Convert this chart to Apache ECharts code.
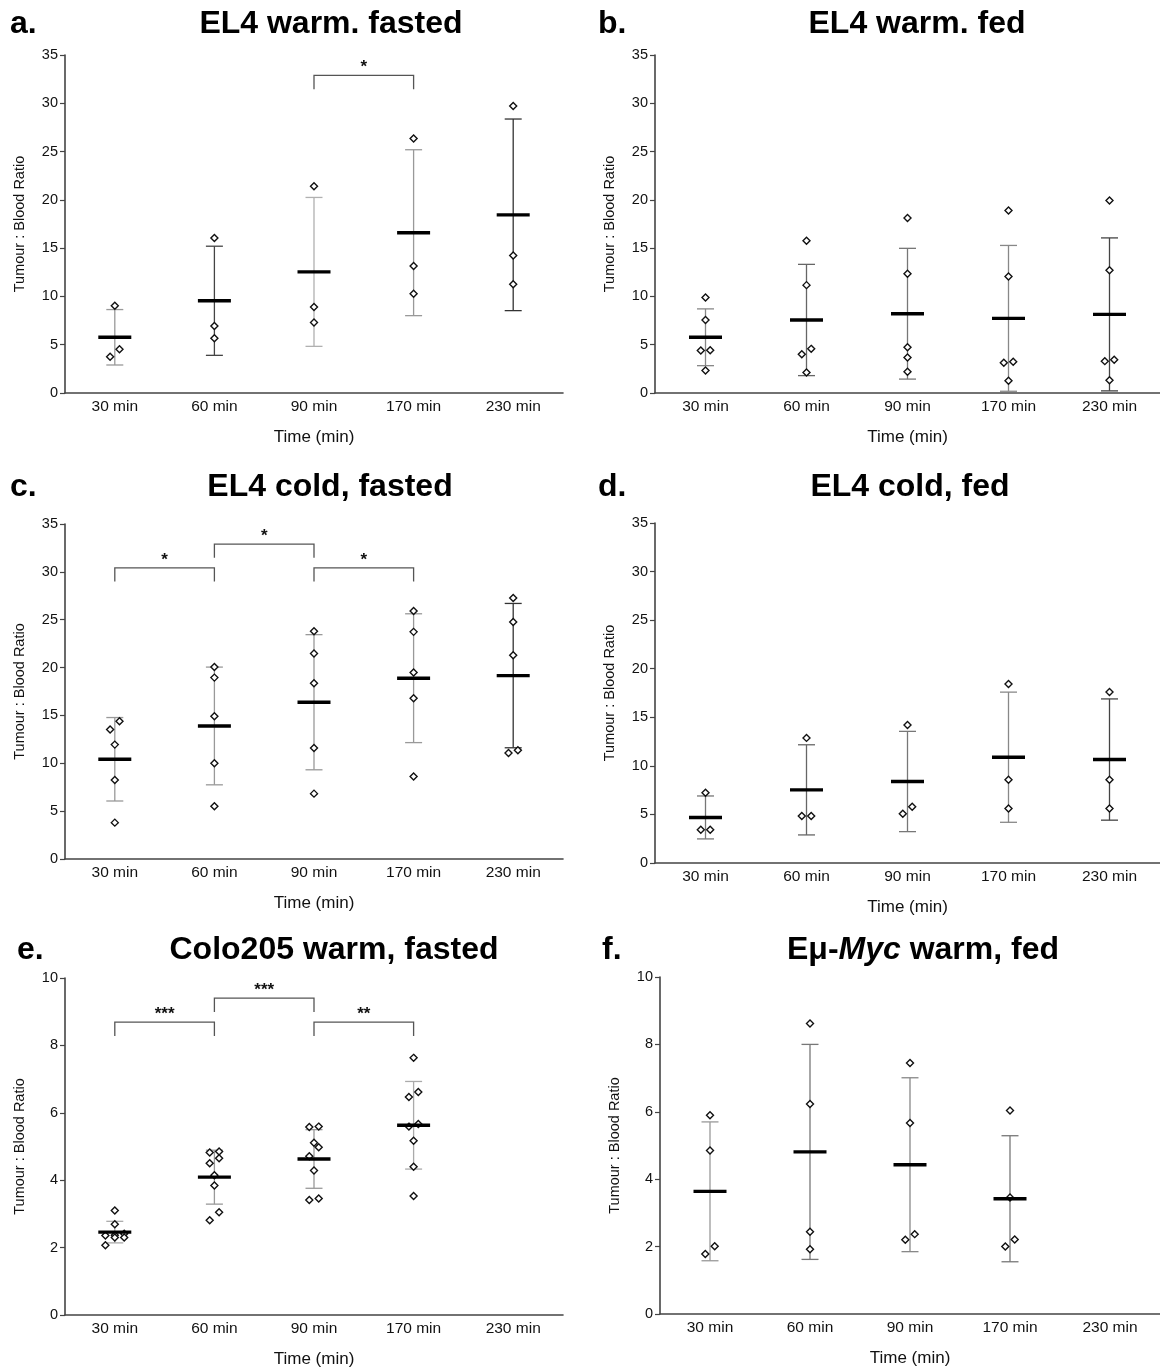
<!DOCTYPE html>
<html>
<head>
<meta charset="utf-8">
<script src="https://cdn.jsdelivr.net/npm/echarts@6/dist/echarts.min.js"></script>
<style>
html,body{margin:0;padding:0;background:#fff;}
#chart{width:1160px;height:1372px;}
</style>
</head>
<body>
<div id="chart"></div>
<script>
// ---------- data ----------
const categories = ['30 min', '60 min', '90 min', '170 min', '230 min'];

// a. EL4 warm. fasted
const pointsA = [[9.04, 4.54, 3.75], [16.05, 6.94, 5.67], [21.41, 8.90, 7.29], [26.36, 13.16, 10.27], [29.73, 14.23, 11.27]];
const meanA = [5.77, 9.55, 12.54, 16.60, 18.45];
const sdA = [2.87, 5.65, 7.71, 8.59, 9.92];
const sigA = [{ from: 2, to: 3, level: 1, label: '*' }];

// b. EL4 warm. fed
const pointsB = [[9.90, 7.56, 4.43, 4.40, 2.34], [15.77, 11.17, 4.57, 4.02, 2.13], [18.11, 12.34, 4.74, 3.68, 2.20], [18.90, 12.06, 3.23, 3.13, 1.27], [19.93, 12.71, 3.44, 3.30, 1.31]];
const meanB = [5.77, 7.56, 8.21, 7.73, 8.14];
const sdB = [2.94, 5.76, 6.77, 7.55, 7.92];
const sigB = [];

// c. EL4 cold, fasted
const pointsC = [[14.39, 13.52, 11.95, 8.26, 3.80], [20.07, 18.95, 14.91, 10.00, 5.51], [23.80, 21.46, 18.36, 11.60, 6.83], [25.92, 23.73, 19.48, 16.79, 8.61], [27.28, 24.77, 21.29, 11.36, 11.08]];
const meanC = [10.42, 13.90, 16.38, 18.89, 19.16];
const sdC = [4.36, 6.15, 7.06, 6.73, 7.54];
const sigC = [{ from: 0, to: 1, level: 0, label: '*' }, { from: 1, to: 2, level: 1, label: '*' }, { from: 2, to: 3, level: 0, label: '*' }];

// d. EL4 cold, fed
const pointsD = [[7.23, 3.42, 3.42], [12.88, 4.83, 4.83], [14.21, 5.79, 5.07], [18.42, 8.56, 5.62], [17.60, 8.56, 5.62]];
const meanD = [4.69, 7.53, 8.39, 10.89, 10.65];
const sdD = [2.21, 4.64, 5.16, 6.70, 6.24];
const sigD = [];

// e. Colo205 warm, fasted
const pointsE = [[3.10, 2.69, 2.41, 2.37, 2.36, 2.30, 2.30, 2.07], [4.85, 4.82, 4.65, 4.50, 4.15, 3.84, 3.05, 2.81], [5.59, 5.58, 5.11, 4.98, 4.71, 4.29, 3.46, 3.41], [7.63, 6.62, 6.47, 5.67, 5.59, 5.17, 4.40, 3.53], []];
const meanE = [2.46, 4.09, 4.63, 5.63, null];
const sdE = [0.32, 0.80, 0.87, 1.30, null];
const sigE = [{ from: 0, to: 1, level: 0, label: '***' }, { from: 1, to: 2, level: 1, label: '***' }, { from: 2, to: 3, level: 0, label: '**' }];

// f. Eμ-Myc warm, fed
const pointsF = [[5.90, 4.85, 2.01, 1.78], [8.62, 6.23, 2.44, 1.92], [7.45, 5.67, 2.37, 2.20], [6.04, 3.46, 2.21, 2.00], []];
const meanF = [3.64, 4.81, 4.43, 3.42, null];
const sdF = [2.06, 3.19, 2.58, 1.87, null];
const sigF = [];

const yTicks35 = [0, 5, 10, 15, 20, 25, 30, 35];
const yTicks10 = [0, 2, 4, 6, 8, 10];

// ---------- layout / style ----------
const FONT = '"Liberation Sans", Arial, Helvetica, sans-serif';
const panels = [
  { letter: 'a.', title: 'EL4 warm. fasted', grid: { left: 65, top: 55, width: 498, height: 338 }, ticks: yTicks35,
    pts: pointsA, mean: meanA, sd: sdA, sig: sigA, errColors: ['#999', '#444', '#b0b0b0', '#999', '#333'],
    titleX: 331, titleY: 24, letterX: 10 },
  { letter: 'b.', title: 'EL4 warm. fed', grid: { left: 655, top: 55, width: 505, height: 338 }, ticks: yTicks35,
    pts: pointsB, mean: meanB, sd: sdB, sig: sigB, errColors: ['#888', '#666', '#777', '#888', '#444'],
    titleX: 917, titleY: 24, letterX: 598 },
  { letter: 'c.', title: 'EL4 cold, fasted', grid: { left: 65, top: 524, width: 498, height: 335 }, ticks: yTicks35,
    pts: pointsC, mean: meanC, sd: sdC, sig: sigC, errColors: ['#999', '#999', '#999', '#999', '#333'],
    titleX: 330, titleY: 487, letterX: 10 },
  { letter: 'd.', title: 'EL4 cold, fed', grid: { left: 655, top: 523, width: 505, height: 340 }, ticks: yTicks35,
    pts: pointsD, mean: meanD, sd: sdD, sig: sigD, errColors: ['#777', '#666', '#777', '#888', '#444'],
    titleX: 910, titleY: 487, letterX: 598 },
  { letter: 'e.', title: 'Colo205 warm, fasted', grid: { left: 65, top: 978, width: 498, height: 337 }, ticks: yTicks10,
    pts: pointsE, mean: meanE, sd: sdE, sig: sigE, errColors: ['#aaa', '#999', '#999', '#aaa', '#999'],
    titleX: 334, titleY: 950, letterX: 17 },
  { letter: 'f.', title: '{n|Eμ-}{i|Myc}{n| warm, fed}', grid: { left: 660, top: 977, width: 500, height: 337 }, ticks: yTicks10,
    pts: pointsF, mean: meanF, sd: sdF, sig: sigF, errColors: ['#999', '#777', '#888', '#777', '#777'],
    titleX: 923, titleY: 950, letterX: 602 }
];

const D = 9.4; // diamond spacing in px for side-by-side placement
function swarmOffsets(vals, pxPerUnit) {
  const idx = vals.map((v, i) => i).sort((p, q) => vals[p] - vals[q]);
  const off = new Array(vals.length).fill(0);
  let g = [];
  const flush = () => { g.forEach((k, j) => { off[k] = (j - (g.length - 1) / 2) * D; }); g = []; };
  idx.forEach(k => {
    if (g.length && (vals[k] - vals[g[0]]) * pxPerUnit >= D) flush();
    g.push(k);
  });
  flush();
  return off;
}

const grids = [], xAxes = [], yAxes = [], series = [], graphics = [];

panels.forEach((p, pi) => {
  const yMax = p.ticks[p.ticks.length - 1];
  const step = p.ticks[1] - p.ticks[0];
  grids.push(Object.assign({ containLabel: false }, p.grid));
  xAxes.push({
    type: 'category', gridIndex: pi, data: categories, boundaryGap: true,
    axisLine: { lineStyle: { color: '#444', width: 1.6 } },
    axisTick: { show: false },
    axisLabel: { fontSize: 15.5, color: '#111', fontFamily: FONT, margin: 6, interval: 0 },
    splitLine: { show: false },
    name: 'Time (min)', nameLocation: 'middle', nameGap: 36,
    nameTextStyle: { fontSize: 17, color: '#111', fontFamily: FONT }
  });
  yAxes.push({
    type: 'value', gridIndex: pi, min: 0, max: yMax, interval: step,
    axisLine: { show: true, lineStyle: { color: '#444', width: 1.6 } },
    axisTick: { show: true, length: 5, lineStyle: { color: '#444', width: 1.2 } },
    axisLabel: { fontSize: 14.5, color: '#111', fontFamily: FONT, margin: 7 },
    splitLine: { show: false },
    name: 'Tumour : Blood Ratio', nameLocation: 'middle', nameGap: 38,
    nameTextStyle: { fontSize: 14.5, color: '#111', fontFamily: FONT }
  });

  // SD error bars
  const sdData = [];
  p.mean.forEach((m, i) => { if (m != null) sdData.push([i, m, p.sd[i]]); });
  series.push({
    type: 'custom', xAxisIndex: pi, yAxisIndex: pi, z: 2, silent: true,
    encode: { x: 0, y: 1 },
    data: sdData,
    renderItem: function (params, api) {
      const i = api.value(0), m = api.value(1), s = api.value(2);
      const t = api.coord([i, m + s]);
      const b = api.coord([i, m - s]);
      const x = t[0], cw = 8.5;
      const st = { stroke: p.errColors[i], lineWidth: 1.3 };
      return { type: 'group', children: [
        { type: 'line', shape: { x1: x, y1: t[1], x2: x, y2: b[1] }, style: st },
        { type: 'line', shape: { x1: x - cw, y1: t[1], x2: x + cw, y2: t[1] }, style: st },
        { type: 'line', shape: { x1: x - cw, y1: b[1], x2: x + cw, y2: b[1] }, style: st }
      ] };
    }
  });

  // individual points
  const pxPerUnit = p.grid.height / yMax;
  const ptData = [];
  p.pts.forEach((vals, ci) => {
    const off = swarmOffsets(vals, pxPerUnit);
    vals.forEach((v, k) => ptData.push({ value: [ci, v], symbolOffset: [off[k], 0] }));
  });
  series.push({
    type: 'scatter', xAxisIndex: pi, yAxisIndex: pi, z: 3, silent: true,
    symbol: 'diamond', symbolSize: 7,
    itemStyle: { color: '#fff', borderColor: '#111', borderWidth: 1.4, opacity: 1 },
    data: ptData
  });

  // mean lines
  const meanData = [];
  p.mean.forEach((m, i) => { if (m != null) meanData.push([i, m]); });
  series.push({
    type: 'custom', xAxisIndex: pi, yAxisIndex: pi, z: 4, silent: true,
    encode: { x: 0, y: 1 },
    data: meanData,
    renderItem: function (params, api) {
      const c = api.coord([api.value(0), api.value(1)]);
      return { type: 'line', shape: { x1: c[0] - 16.5, y1: c[1], x2: c[0] + 16.5, y2: c[1] },
        style: { stroke: '#000', lineWidth: 3.4 } };
    }
  });

  // significance brackets
  if (p.sig.length) {
    series.push({
      type: 'custom', xAxisIndex: pi, yAxisIndex: pi, z: 5, silent: true,
      encode: { x: 0, y: 2 },
      data: p.sig.map(s => [s.from, s.to, yMax * (s.level ? 0.94 : 0.869)]),
      renderItem: function (params, api) {
        const s = p.sig[params.dataIndex];
        const yv = api.value(2);
        const leg = yMax * 0.041;
        const a = api.coord([api.value(0), yv]);
        const b = api.coord([api.value(1), yv]);
        const a2 = api.coord([api.value(0), yv - leg]);
        const st = { stroke: '#555', lineWidth: 1.3, fill: null };
        return { type: 'group', children: [
          { type: 'polyline', shape: { points: [[a[0], a2[1]], [a[0], a[1]], [b[0], a[1]], [b[0], a2[1]]] }, style: st },
          { type: 'text', x: (a[0] + b[0]) / 2, y: a[1] + 1,
            style: { text: s.label, fill: '#111', font: 'bold 17px ' + FONT, align: 'center', verticalAlign: 'bottom' } }
        ] };
      }
    });
  }

  // panel letter and title
  graphics.push({ type: 'text', x: p.letterX, y: p.titleY, silent: true,
    style: { text: p.letter, fill: '#000', font: 'bold 32px ' + FONT, align: 'left', verticalAlign: 'middle' } });
  graphics.push({ type: 'text', x: p.titleX, y: p.titleY, silent: true,
    style: { text: p.title, fill: '#000', font: 'bold 32px ' + FONT, align: 'center', verticalAlign: 'middle',
      rich: {
        n: { fontSize: 32, fontWeight: 'bold', fontFamily: FONT, fill: '#000' },
        i: { fontSize: 32, fontWeight: 'bold', fontStyle: 'italic', fontFamily: FONT, fill: '#000' }
      } } });
});

const chart = echarts.init(document.getElementById('chart'), null, { renderer: 'canvas' });
chart.setOption({
  animation: false,
  backgroundColor: '#fff',
  grid: grids,
  xAxis: xAxes,
  yAxis: yAxes,
  series: series,
  graphic: { elements: graphics }
});
</script>
</body>
</html>
